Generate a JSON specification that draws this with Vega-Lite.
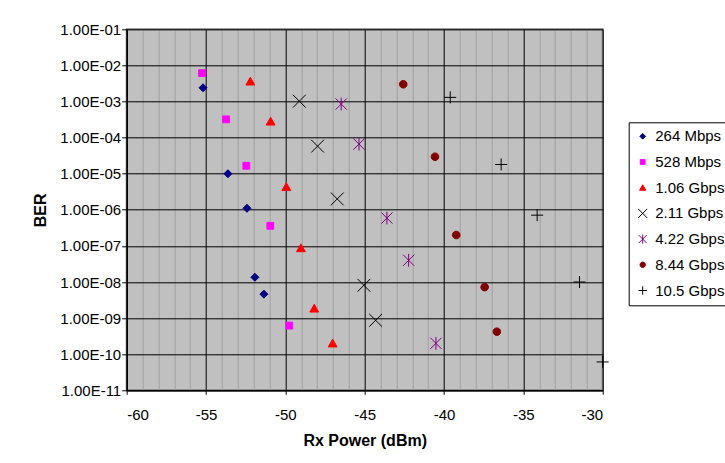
{
  "$schema": "https://vega.github.io/schema/vega-lite/v6.json",
  "width": 476,
  "height": 361,
  "autosize": {"type": "none"},
  "padding": {"left": 126.7, "top": 29.3, "right": 122.3, "bottom": 72.7},
  "background": "white",
  "config": {
    "font": "Liberation Sans",
    "view": {"fill": "#C0C0C0", "stroke": "#808080", "strokeWidth": 2}
  },
  "data": {
    "values": [
      {"series": "264 Mbps", "x": -55.19, "ber": 2.4e-3},
      {"series": "264 Mbps", "x": -53.62, "ber": 1.0e-5},
      {"series": "264 Mbps", "x": -52.42, "ber": 1.1e-6},
      {"series": "264 Mbps", "x": -51.92, "ber": 1.35e-8},
      {"series": "264 Mbps", "x": -51.35, "ber": 4.6e-9},
      {"series": "528 Mbps", "x": -55.25, "ber": 6.1e-3},
      {"series": "528 Mbps", "x": -53.74, "ber": 3.2e-4},
      {"series": "528 Mbps", "x": -52.46, "ber": 1.66e-5},
      {"series": "528 Mbps", "x": -50.95, "ber": 3.6e-7},
      {"series": "528 Mbps", "x": -49.75, "ber": 6.2e-10},
      {"series": "1.06 Gbps", "x": -52.21, "ber": 3.6e-3},
      {"series": "1.06 Gbps", "x": -50.93, "ber": 2.8e-4},
      {"series": "1.06 Gbps", "x": -49.94, "ber": 4.3e-6},
      {"series": "1.06 Gbps", "x": -49.02, "ber": 8.7e-8},
      {"series": "1.06 Gbps", "x": -48.18, "ber": 1.85e-9},
      {"series": "1.06 Gbps", "x": -47.02, "ber": 2.0e-10},
      {"series": "2.11 Gbps", "x": -49.12, "ber": 1.02e-3},
      {"series": "2.11 Gbps", "x": -47.97, "ber": 5.8e-5},
      {"series": "2.11 Gbps", "x": -46.73, "ber": 2.0e-6},
      {"series": "2.11 Gbps", "x": -45.05, "ber": 8.1e-9},
      {"series": "2.11 Gbps", "x": -44.31, "ber": 8.7e-10},
      {"series": "4.22 Gbps", "x": -46.48, "ber": 8.5e-4},
      {"series": "4.22 Gbps", "x": -45.36, "ber": 6.6e-5},
      {"series": "4.22 Gbps", "x": -43.6, "ber": 5.9e-7},
      {"series": "4.22 Gbps", "x": -42.23, "ber": 4.0e-8},
      {"series": "4.22 Gbps", "x": -40.51, "ber": 2.0e-10},
      {"series": "8.44 Gbps", "x": -42.57, "ber": 3.0e-3},
      {"series": "8.44 Gbps", "x": -40.57, "ber": 2.95e-5},
      {"series": "8.44 Gbps", "x": -39.23, "ber": 2.0e-7},
      {"series": "8.44 Gbps", "x": -37.44, "ber": 7.2e-9},
      {"series": "8.44 Gbps", "x": -36.67, "ber": 4.2e-10},
      {"series": "10.5 Gbps", "x": -39.61, "ber": 1.3e-3},
      {"series": "10.5 Gbps", "x": -36.4, "ber": 1.8e-5},
      {"series": "10.5 Gbps", "x": -34.13, "ber": 7.1e-7},
      {"series": "10.5 Gbps", "x": -31.46, "ber": 1.0e-8},
      {"series": "10.5 Gbps", "x": -30.0, "ber": 6.1e-11}
    ]
  },
  "mark": {"type": "point", "size": 64, "opacity": 1, "strokeWidth": 1},
  "encoding": {
    "x": {
      "field": "x",
      "type": "quantitative",
      "scale": {"domain": [-60, -30], "nice": false, "zero": false},
      "axis": {
        "title": "Rx Power (dBm)",
        "titleFontSize": 16,
        "titleFontWeight": "bold",
        "titleColor": "black",
        "titlePadding": 10,
        "values": [-60,-59,-58,-57,-56,-55,-54,-53,-52,-51,-50,-49,-48,-47,-46,-45,-44,-43,-42,-41,-40,-39,-38,-37,-36,-35,-34,-33,-32,-31,-30],
        "labelExpr": "datum.value % 5 === 0 ? ('' + datum.value) : ''",
        "labelFontSize": 15,
        "labelColor": "black",
        "labelPadding": 13,
        "labelOverlap": false,
        "tickSize": 4,
        "tickColor": "black",
        "tickOpacity": {"condition": {"test": "datum.value % 5 === 0", "value": 1}, "value": 0},
        "domainColor": "black",
        "domainWidth": 1.5,
        "grid": true,
        "gridColor": {"condition": {"test": "datum.value % 5 === 0", "value": "#000000"}, "value": "#A0A0A0"},
        "gridWidth": 1,
        "gridOpacity": 1
      }
    },
    "y": {
      "field": "ber",
      "type": "quantitative",
      "scale": {"type": "log", "domain": [1e-11, 1e-1], "nice": false},
      "axis": {
        "title": "BER",
        "titleFontSize": 16,
        "titleFontWeight": "bold",
        "titleColor": "black",
        "titlePadding": 11,
        "values": [1e-11, 1e-10, 1e-9, 1e-8, 1e-7, 1e-6, 1e-5, 1e-4, 1e-3, 1e-2, 1e-1],
        "labelExpr": "'1.00E-' + (round(-log(datum.value)/LN10) < 10 ? '0' : '') + round(-log(datum.value)/LN10)",
        "labelFontSize": 15,
        "labelColor": "black",
        "labelPadding": 1,
        "labelOverlap": false,
        "tickSize": 5,
        "tickColor": "black",
        "domainColor": "black",
        "domainWidth": 1.5,
        "grid": true,
        "gridColor": "#000000",
        "gridOpacity": 1
      }
    },
    "shape": {
      "field": "series",
      "type": "nominal",
      "scale": {
        "domain": ["264 Mbps", "528 Mbps", "1.06 Gbps", "2.11 Gbps", "4.22 Gbps", "8.44 Gbps", "10.5 Gbps"],
        "range": [
          "M0,-1L1,0L0,1L-1,0Z",
          "M-0.85,-0.85L0.85,-0.85L0.85,0.85L-0.85,0.85Z",
          "M0,-1.05L1.1,0.9L-1.1,0.9Z",
          "M-1.6,-1.6L1.6,1.6M-1.6,1.6L1.6,-1.6",
          "M-1.4,-1.4L1.4,1.4M-1.4,1.4L1.4,-1.4M0,-1.6L0,1.6",
          "M0.95,0A0.95,0.95,0,1,1,-0.95,0A0.95,0.95,0,1,1,0.95,0Z",
          "M-1.5,0L1.5,0M0,-1.5L0,1.5"
        ]
      },
      "legend": {
        "title": null,
        "orient": "none",
        "legendX": 502,
        "legendY": 93,
        "strokeColor": "black",
        "fillColor": "white",
        "padding": 6.5,
        "labelFontSize": 15,
        "labelColor": "black",
        "labelOffset": 5,
        "symbolSize": 32,
        "symbolStrokeWidth": 1,
        "rowPadding": 9.7
      }
    },
    "fill": {
      "field": "series",
      "type": "nominal",
      "scale": {
        "domain": ["264 Mbps", "528 Mbps", "1.06 Gbps", "2.11 Gbps", "4.22 Gbps", "8.44 Gbps", "10.5 Gbps"],
        "range": ["#000080", "#FF00FF", "#FF0000", "transparent", "transparent", "#800000", "transparent"]
      }
    },
    "stroke": {
      "field": "series",
      "type": "nominal",
      "scale": {
        "domain": ["264 Mbps", "528 Mbps", "1.06 Gbps", "2.11 Gbps", "4.22 Gbps", "8.44 Gbps", "10.5 Gbps"],
        "range": ["#000080", "#FF00FF", "#FF0000", "#000000", "#800080", "#800000", "#000000"]
      }
    }
  }
}
